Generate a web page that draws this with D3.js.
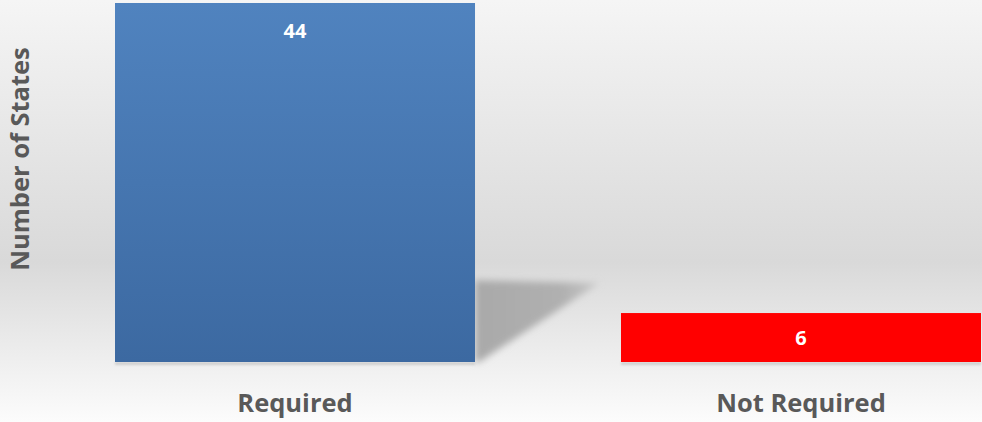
<!DOCTYPE html>
<html><head><meta charset="utf-8">
<script src="https://cdn.jsdelivr.net/npm/d3@7"></script>
<style>html,body{margin:0;padding:0;background:#fff;overflow:hidden}svg{display:block}</style>
</head><body>
<script>
const categories = ["Required", "Not Required"];
const values = [44, 6];
const yAxisTitle = "Number of States";

const W = 982, H = 422;
const svg = d3.select("body").append("svg").attr("width", W).attr("height", H);
const defs = svg.append("defs");

const bg = defs.append("linearGradient").attr("id","bg").attr("x1",0).attr("y1",0).attr("x2",0).attr("y2",1);
[[0,"#f5f5f5"],[0.62,"#d9d9d9"],[0.86,"#efefef"],[1,"#fcfcfc"]].forEach(([o,c])=>bg.append("stop").attr("offset",o).attr("stop-color",c));
const blue = defs.append("linearGradient").attr("id","blue").attr("x1",0).attr("y1",0).attr("x2",0).attr("y2",1);
[[0,"#5083bf"],[1,"#3c69a1"]].forEach(([o,c])=>blue.append("stop").attr("offset",o).attr("stop-color",c));
defs.append("filter").attr("id","blur").attr("x","-20%").attr("y","-20%").attr("width","140%").attr("height","140%")
  .append("feGaussianBlur").attr("stdDeviation",3.5);
defs.append("filter").attr("id","blur1").attr("x","-5%").attr("y","-50%").attr("width","110%").attr("height","200%")
  .append("feGaussianBlur").attr("stdDeviation",1.2);
const shg = defs.append("linearGradient").attr("id","shg").attr("x1",0).attr("y1",0).attr("x2",1).attr("y2",0);
[[0,"#a9a9a9"],[0.7,"#b0b0b0"],[1,"#c8c8c8"]].forEach(([o,c])=>shg.append("stop").attr("offset",o).attr("stop-color",c));

svg.append("rect").attr("width",W).attr("height",H).attr("fill","url(#bg)");

const x = d3.scaleBand().domain(categories).range([115, 981]).paddingInner(0.2885).paddingOuter(0);
const y = d3.scaleLinear().domain([0, 44]).range([362, 3]);
const fills = ["url(#blue)", "#ff0000"];

// perspective shadow of the tall bar
const b0 = categories[0];
const sh = [[x(b0)+x.bandwidth(), y(values[0]*0.228)], [x(b0)+x.bandwidth()+124, y(values[0]*0.22)], [x(b0)+x.bandwidth()+4, y(0)], [x(b0)+x.bandwidth(), y(0)]];
svg.append("path").attr("d", d3.line()(sh) + "Z").attr("fill","url(#shg)").attr("filter","url(#blur)");

// thin shadow strips below bars
svg.selectAll("rect.bshadow").data(categories).join("rect").attr("class","bshadow")
  .attr("x", d=>x(d)).attr("y", y(0)).attr("width", x.bandwidth()).attr("height", 3)
  .attr("fill","#cfcfcf").attr("filter","url(#blur1)");

svg.selectAll("rect.bar").data(categories).join("rect").attr("class","bar")
  .attr("x", d=>x(d)).attr("y", (d,i)=>y(values[i])).attr("width", x.bandwidth())
  .attr("height", (d,i)=>y(0)-y(values[i])).attr("fill", (d,i)=>fills[i]);

const font = "'Open Sans', 'DejaVu Sans', sans-serif";
// value labels
svg.selectAll("text.val").data(categories).join("text").attr("class","val")
  .attr("x", d=>x(d)+x.bandwidth()/2)
  .attr("y", (d,i)=> values[i] > 20 ? y(values[i]) + 35 : (y(values[i])+y(0))/2 + 7)
  .attr("text-anchor","middle").attr("fill","#fff").attr("font-family",font)
  .attr("font-weight","bold").attr("font-size","20px").text((d,i)=>values[i]);

// category labels
const xAxis = d3.axisBottom(x).tickSize(0).tickPadding(0);
const gx = svg.append("g").attr("transform", `translate(0,${y(0)})`).call(xAxis);
gx.select(".domain").remove();
gx.selectAll("text").attr("dy", null).attr("y", 50).attr("fill","#595959")
  .attr("font-family",font).attr("font-weight","bold").attr("font-size","25.5px");

// y axis title
svg.append("text").attr("transform","translate(28.5,159) rotate(-90)")
  .attr("text-anchor","middle").attr("fill","#595959").attr("font-family",font)
  .attr("font-weight","bold").attr("font-size","25.5px").text(yAxisTitle);
</script>
</body></html>
